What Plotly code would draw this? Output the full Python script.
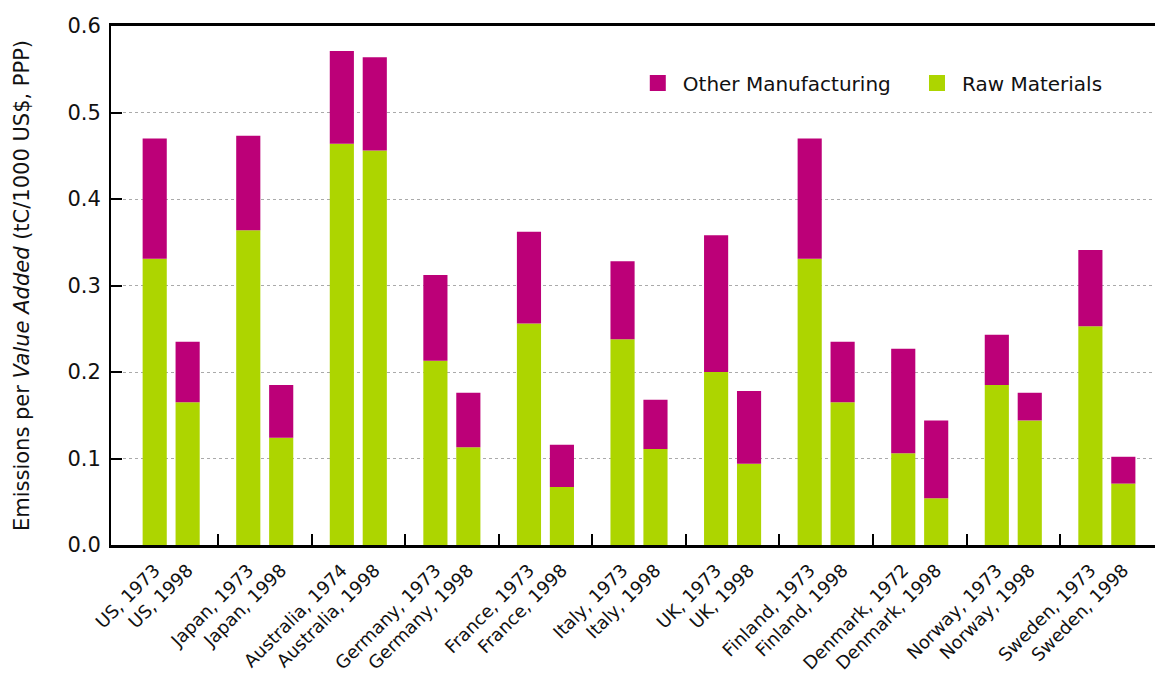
import numpy as np
import plotly.graph_objects as go

countries = ["US", "Japan", "Australia", "Germany", "France", "Italy", "UK",
             "Finland", "Denmark", "Norway", "Sweden"]
years_early = ["1973", "1973", "1974", "1973", "1973", "1973", "1973",
               "1973", "1972", "1973", "1973"]
years_late = ["1998"] * 11

raw_early = [0.331, 0.364, 0.464, 0.213, 0.256, 0.238, 0.200, 0.331, 0.106, 0.185, 0.253]
total_early = [0.470, 0.473, 0.571, 0.312, 0.362, 0.328, 0.358, 0.470, 0.227, 0.243, 0.341]
raw_late = [0.165, 0.124, 0.456, 0.113, 0.067, 0.111, 0.094, 0.165, 0.054, 0.144, 0.071]
total_late = [0.235, 0.185, 0.564, 0.176, 0.116, 0.168, 0.178, 0.235, 0.144, 0.176, 0.102]

other_early = [t - r for t, r in zip(total_early, raw_early)]
other_late = [t - r for t, r in zip(total_late, raw_late)]

MAGENTA = "#BC0078"
LIME = "#ADD500"
FONT = "DejaVu Sans"

g = np.arange(len(countries))
off = 0.176
bw = 0.258
x_early = g - off
x_late = g + off

xs = np.concatenate([x_early, x_late])
raw = raw_early + raw_late
other = other_early + other_late
labels = [f"{c}, {y}" for c, y in zip(countries, years_early)] + \
         [f"{c}, {y}" for c, y in zip(countries, years_late)]

fig = go.Figure()
fig.add_trace(go.Bar(x=xs, y=raw, width=bw, marker=dict(color=LIME, line=dict(width=0)),
                     name="Raw Materials", showlegend=False))
fig.add_trace(go.Bar(x=xs, y=other, base=raw, width=bw,
                     marker=dict(color=MAGENTA, line=dict(width=0)),
                     name="Other Manufacturing", showlegend=False))
# legend entries (legend only)
fig.add_trace(go.Scatter(x=[None], y=[None], mode="markers", name="Other Manufacturing",
                         marker=dict(symbol="square", size=22, color=MAGENTA),
                         legend="legend"))
fig.add_trace(go.Scatter(x=[None], y=[None], mode="markers", name="Raw Materials",
                         marker=dict(symbol="square", size=22, color=LIME),
                         legend="legend2"))

leg_common = dict(orientation="h", y=0.89, xanchor="left", yanchor="middle",
                  font=dict(size=20, family=FONT, color="#111"), itemsizing="trace",
                  itemwidth=40, bgcolor="rgba(0,0,0,0)")

fig.update_layout(
    width=1155, height=666,
    margin=dict(l=103, r=0, t=18, b=129),
    paper_bgcolor="white", plot_bgcolor="white",
    font=dict(family=FONT, size=18, color="#111"),
    barmode="overlay",
    legend=dict(x=0.496, **leg_common),
    legend2=dict(x=0.7614, **leg_common),
    xaxis=dict(
        range=[-0.643, 10.6], automargin=False,
        tickmode="array", tickvals=xs, ticktext=labels,
        tickangle=-45, ticks="", showgrid=False, zeroline=False,
        showline=True, linecolor="black", linewidth=2.5, mirror=True,
        tickfont=dict(size=18, family=FONT), ticklabelstandoff=5,
        minor=dict(tickmode="array", tickvals=list(g[:-1] + 0.5), ticks="inside",
                   ticklen=11, tickwidth=2, tickcolor="black", showgrid=False),
    ),
    yaxis=dict(
        range=[0, 0.6], automargin=False,
        tickmode="array", tickvals=[0, 0.1, 0.2, 0.3, 0.4, 0.5, 0.6],
        tickformat=".1f", ticks="inside", ticklen=11, tickwidth=2, tickcolor="black",
        showline=True, linecolor="black", linewidth=2,
        showgrid=True, gridcolor="#aaaaaa", griddash="dot", gridwidth=1,
        zeroline=False, tickfont=dict(size=21, family=FONT),
        ticklabelstandoff=4,
        title=dict(text="Emissions per <i>Value Added</i> (tC/1000 US$, PPP)",
                   font=dict(size=21, family=FONT), standoff=32),
    ),
)

fig.write_html("out.html")
